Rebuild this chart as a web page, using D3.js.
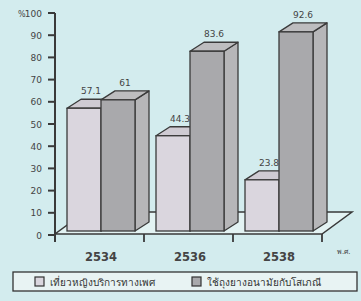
<!DOCTYPE html>
<html><head><meta charset="utf-8">
<script src="https://cdn.jsdelivr.net/npm/d3@7"></script>
<style>html,body{margin:0;padding:0;background:#d3ecee;}svg{display:block;}</style>
</head><body>
<svg id="c" width="361" height="301"></svg>
<script>
const years = ["2534", "2536", "2538"];
const series = ["เที่ยวหญิงบริการทางเพศ", "ใช้ถุงยางอนามัยกับโสเภณี"];
const sexWorkerVisits = [57.1, 44.3, 23.8];
const condomUse = [61, 83.6, 92.6];
const yTicks = [0, 10, 20, 30, 40, 50, 60, 70, 80, 90, 100];
const xUnit = "พ.ศ.";

const svg = d3.select("#c");
const font = "'DejaVu Sans', sans-serif";
const DX = 14, DY = -9;
const colors = {
  front: ["#dad6de", "#a9a9ac"],
  top:   ["#cfcbd3", "#bdbdbf"],
  side:  ["#c4c0c8", "#b6b6b8"]
};
const stroke = "#3a3a3a";

const yAxisScale = d3.scaleLinear().domain([0, 100]).range([235, 13]);
const yBar = d3.scaleLinear().domain([0, 100]).range([231, 16]);
const x0 = d3.scaleBand().domain(years).range([55, 322]);
const x1 = d3.scaleBand().domain(series).range([12, 80]);

// floor
const fl = 55, fr = 322, fy = 234, fdx = 30, fdy = -22;
svg.append("path")
  .attr("d", `M${fl},${fy} L${fr},${fy} L${fr+fdx},${fy+fdy} L${fl+fdx},${fy+fdy} Z`)
  .attr("fill", "#e3f3f3").attr("stroke", stroke).attr("stroke-width", 1.5);

// bottom ticks
const bt = [55, ...years.slice(1).map(d => x0(d)), 322];
svg.selectAll(".bt").data(bt).enter().append("line")
  .attr("x1", d => d).attr("x2", d => d).attr("y1", fy).attr("y2", 242)
  .attr("stroke", stroke).attr("stroke-width", 1.8);

// bars
const data = [];
years.forEach((y, i) => {
  data.push({year: y, s: 0, v: sexWorkerVisits[i]});
  data.push({year: y, s: 1, v: condomUse[i]});
});
const g = svg.append("g");
data.forEach(d => {
  const x = x0(d.year) + x1(series[d.s]);
  const w = x1.bandwidth();
  const yb = yBar(0), yt = yBar(d.v);
  // side
  g.append("path")
    .attr("d", `M${x+w},${yb} L${x+w+DX},${yb+DY} L${x+w+DX},${yt+DY} L${x+w},${yt} Z`)
    .attr("fill", colors.side[d.s]).attr("stroke", stroke).attr("stroke-width", 1.3).attr("stroke-linejoin", "round");
  // top
  g.append("path")
    .attr("d", `M${x},${yt} L${x+DX},${yt+DY} L${x+w+DX},${yt+DY} L${x+w},${yt} Z`)
    .attr("fill", colors.top[d.s]).attr("stroke", stroke).attr("stroke-width", 1.3).attr("stroke-linejoin", "round");
  // front
  g.append("rect").attr("x", x).attr("y", yt).attr("width", w).attr("height", yb - yt)
    .attr("fill", colors.front[d.s]).attr("stroke", stroke).attr("stroke-width", 1.3);
  // label
  svg.append("text").attr("x", x + w / 2 + DX / 2).attr("y", yt + DY - 5)
    .attr("text-anchor", "middle").attr("font-family", font).attr("font-size", 9)
    .attr("fill", "#444").text(d.v);
});

// y axis
svg.append("line").attr("x1", 55).attr("x2", 55).attr("y1", yAxisScale(100)).attr("y2", 242)
  .attr("stroke", stroke).attr("stroke-width", 2);
svg.selectAll(".yt").data(yTicks).enter().append("line")
  .attr("x1", 48).attr("x2", 55).attr("y1", d => yAxisScale(d)).attr("y2", d => yAxisScale(d))
  .attr("stroke", stroke).attr("stroke-width", 2);
svg.selectAll(".yl").data(yTicks).enter().append("text")
  .attr("x", 42).attr("y", d => yAxisScale(d) + 3.5).attr("text-anchor", "end")
  .attr("font-family", font).attr("font-size", 9).attr("fill", "#444")
  .text(d => d);
svg.append("text").attr("x", 18).attr("y", yAxisScale(100) + 3.5)
  .attr("font-family", font).attr("font-size", 8).attr("fill", "#444").text("%");

// x labels
years.forEach(y => {
  svg.append("text").attr("x", x0(y) + x1.range()[0] + (x1.range()[1] - x1.range()[0]) / 2)
    .attr("y", 261).attr("text-anchor", "middle").attr("font-family", font)
    .attr("font-size", 11.5).attr("font-weight", "bold").attr("fill", "#444").text(y);
});
svg.append("text").attr("x", 337).attr("y", 254).attr("font-family", font)
  .attr("font-size", 7).attr("fill", "#444").text(xUnit);

// legend
svg.append("rect").attr("x", 13).attr("y", 272).attr("width", 344).attr("height", 19)
  .attr("fill", "#e8f3f3").attr("stroke", "#333").attr("stroke-width", 1.3);
const lx = [35, 192];
series.forEach((s, i) => {
  svg.append("rect").attr("x", lx[i]).attr("y", 277).attr("width", 9).attr("height", 9)
    .attr("fill", colors.front[i]).attr("stroke", "#333").attr("stroke-width", 1.2);
  svg.append("text").attr("x", lx[i] + 15).attr("y", 285.5).attr("font-family", font)
    .attr("font-size", 10).attr("fill", "#333").text(s);
});
</script>
</body></html>
